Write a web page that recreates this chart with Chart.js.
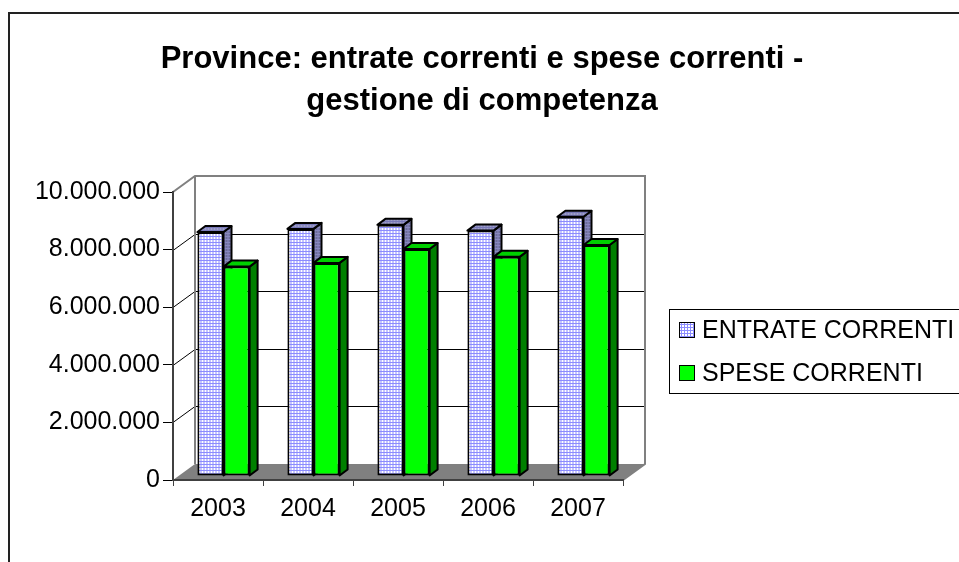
<!DOCTYPE html>
<html>
<head>
<meta charset="utf-8">
<script src="https://cdn.jsdelivr.net/npm/chart.js@4.4.1/dist/chart.umd.min.js"></script>
<style>
  html, body { margin: 0; padding: 0; background: #fff; }
  #wrap { width: 959px; height: 562px; }
</style>
</head>
<body>
<div id="wrap"><canvas id="chart" width="959" height="562"></canvas></div>
<script>
// Chart data
const years = ['2003', '2004', '2005', '2006', '2007'];
const entrate = [8470000, 8580000, 8720000, 8520000, 9000000];
const spese = [7270000, 7400000, 7880000, 7610000, 8020000];
const yTicks = [0, 2000000, 4000000, 6000000, 8000000, 10000000];
const seriesNames = ['ENTRATE CORRENTI', 'SPESE CORRENTI'];
const titleLines = ['Province: entrate correnti e spese correnti -', 'gestione di competenza'];

const FONT = "'Liberation Sans', Arial, sans-serif";

// fake 3d depth: back wall offset and bar offset inside the depth
const WALL_DX = 22, WALL_DY = 16;
const BAR_DX = 5.5, BAR_DY = 4;
const BAR_DEPTH_X = 8, BAR_DEPTH_Y = 6;

const canvas = document.getElementById('chart');
const ctx = canvas.getContext('2d');

// small grid pattern like the excel fill
function gridPattern(bg, line) {
    const c = document.createElement('canvas');
    c.width = 3;
    c.height = 3;
    const g = c.getContext('2d');
    g.fillStyle = bg;
    g.fillRect(0, 0, 3, 3);
    g.fillStyle = line;
    g.fillRect(0, 0, 3, 1);
    g.fillRect(0, 0, 1, 3);
    return ctx.createPattern(c, 'repeat');
}

const entFront = gridPattern('#ffffff', '#8c8cff');
const entTop = gridPattern('#a0a0c8', '#7878b8');
const entSide = gridPattern('#6c6c98', '#8888c0');

function formatNum(v) {
    return String(v).replace(/\B(?=(\d{3})+(?!\d))/g, '.');
}

// walls, floor and back gridlines
const wallsPlugin = {
    id: 'walls',
    beforeDraw(chart) {
        const c = chart.ctx;
        const a = chart.chartArea;
        const y = chart.scales.y;
        c.save();

        // floor
        c.fillStyle = '#808080';
        c.beginPath();
        c.moveTo(a.left, a.bottom);
        c.lineTo(a.right, a.bottom);
        c.lineTo(a.right + WALL_DX, a.bottom - WALL_DY);
        c.lineTo(a.left + WALL_DX, a.bottom - WALL_DY);
        c.closePath();
        c.fill();

        // gridlines on side wall and back wall
        c.strokeStyle = '#000';
        c.lineWidth = 1;
        y.ticks.forEach(t => {
            if (t.value === y.min || t.value === y.max) return;
            const py = Math.round(y.getPixelForValue(t.value)) + 0.5;
            c.beginPath();
            c.moveTo(a.left, py);
            c.lineTo(a.left + WALL_DX, py - WALL_DY);
            c.lineTo(a.right + WALL_DX, py - WALL_DY);
            c.stroke();
        });

        // wall edges
        const top = y.getPixelForValue(y.max);
        c.strokeStyle = '#808080';
        c.lineWidth = 2;
        c.beginPath();
        c.moveTo(a.left, top);
        c.lineTo(a.left + WALL_DX, top - WALL_DY);
        c.lineTo(a.right + WALL_DX, top - WALL_DY);
        c.lineTo(a.right + WALL_DX, a.bottom - WALL_DY);
        c.lineTo(a.right, a.bottom);
        c.moveTo(a.left + WALL_DX, top - WALL_DY);
        c.lineTo(a.left + WALL_DX, a.bottom - WALL_DY);
        c.stroke();
        c.restore();
    }
};

// top and side faces of bars, then shift the bars into the depth
const barsPlugin = {
    id: 'bars3d',
    beforeDatasetsDraw(chart) {
        const c = chart.ctx;
        c.save();
        c.translate(BAR_DX, -BAR_DY);
        c.lineWidth = 2;
        c.lineJoin = 'round';
        c.strokeStyle = '#000';
        chart.data.datasets.forEach((ds, i) => {
            const meta = chart.getDatasetMeta(i);
            meta.data.forEach(el => {
                const l = el.x - el.width / 2;
                const r = el.x + el.width / 2;
                const t = el.y;
                const b = el.base;
                // side
                c.fillStyle = ds.sideColor;
                c.beginPath();
                c.moveTo(r, t);
                c.lineTo(r + BAR_DEPTH_X, t - BAR_DEPTH_Y);
                c.lineTo(r + BAR_DEPTH_X, b - BAR_DEPTH_Y);
                c.lineTo(r, b);
                c.closePath();
                c.fill();
                c.stroke();
                // top
                c.fillStyle = ds.topColor;
                c.beginPath();
                c.moveTo(l, t);
                c.lineTo(r, t);
                c.lineTo(r + BAR_DEPTH_X, t - BAR_DEPTH_Y);
                c.lineTo(l + BAR_DEPTH_X, t - BAR_DEPTH_Y);
                c.closePath();
                c.fill();
                c.stroke();
            });
        });
    },
    afterDatasetsDraw(chart) {
        chart.ctx.restore();
    }
};

// title over the whole canvas, legend box on the right and outer frame
const decorPlugin = {
    id: 'decor',
    afterDraw(chart) {
        const c = chart.ctx;
        c.save();
        c.fillStyle = '#000';
        c.textAlign = 'center';
        c.textBaseline = 'middle';
        c.font = 'bold 31px ' + FONT;
        titleLines.forEach((line, i) => {
            c.fillText(line, 482, 59 + i * 42);
        });

        c.strokeStyle = '#000';
        c.lineWidth = 1;
        c.strokeRect(669.5, 309.5, 300, 84);

        c.textAlign = 'left';
        c.font = '25px ' + FONT;
        chart.data.datasets.forEach((ds, i) => {
            const yy = 331 + i * 43;
            c.fillStyle = ds.backgroundColor;
            c.fillRect(679, yy - 8, 15, 15);
            c.strokeRect(679.5, yy - 8.5, 15, 15);
            c.fillStyle = '#000';
            c.fillText(ds.label, 702, yy);
        });

        c.strokeStyle = '#222';
        c.lineWidth = 2;
        c.strokeRect(9, 13, 1000, 600);
        c.restore();
    }
};

new Chart(ctx, {
    type: 'bar',
    data: {
        labels: years,
        datasets: [{
            label: seriesNames[0],
            data: entrate,
            backgroundColor: entFront,
            topColor: entTop,
            sideColor: entSide,
            borderColor: '#000',
            borderWidth: 2,
            borderSkipped: false,
            clip: false
        }, {
            label: seriesNames[1],
            data: spese,
            backgroundColor: '#00ff00',
            topColor: '#00d000',
            sideColor: '#008000',
            borderColor: '#000',
            borderWidth: 2,
            borderSkipped: false,
            clip: false
        }]
    },
    options: {
        responsive: false,
        animation: false,
        events: [],
        layout: {
            padding: { left: 0, right: 336, top: 192, bottom: 0 }
        },
        datasets: {
            bar: { categoryPercentage: 0.58, barPercentage: 1 }
        },
        plugins: {
            legend: { display: false },
            tooltip: { enabled: false },
            title: { display: false }
        },
        scales: {
            x: {
                grid: { drawOnChartArea: false, tickLength: 6, color: '#404040', offset: true },
                border: { color: '#404040', width: 2 },
                ticks: { color: '#000', font: { family: FONT, size: 25 }, padding: 8 },
                afterFit: s => { s.height = 82; }
            },
            y: {
                min: 0,
                max: 10000000,
                afterBuildTicks: s => { s.ticks = yTicks.map(v => ({ value: v })); },
                grid: { drawOnChartArea: false, tickLength: 10, color: '#000' },
                border: { color: '#404040', width: 2 },
                ticks: {
                    color: '#000',
                    font: { family: FONT, size: 25 },
                    padding: 3,
                    callback: v => formatNum(v)
                },
                afterFit: s => { s.width = 173; }
            }
        }
    },
    plugins: [wallsPlugin, barsPlugin, decorPlugin]
});
</script>
</body>
</html>
